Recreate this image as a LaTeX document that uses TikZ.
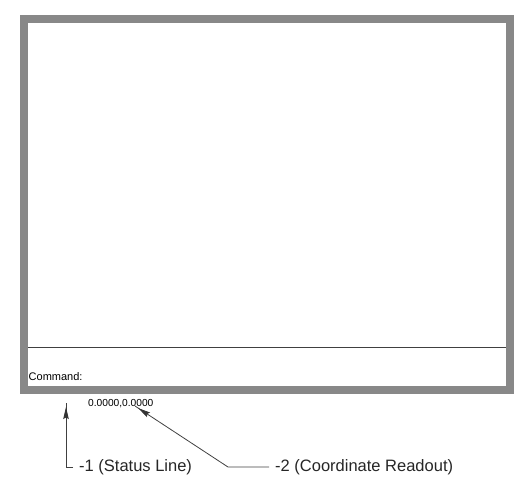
\documentclass[tikz,border=0pt]{standalone}
\usepackage{fontspec}
\setmainfont{Liberation Sans}
\usetikzlibrary{arrows.meta,decorations.markings}
\definecolor{framegray}{HTML}{888888}
\definecolor{linegray}{HTML}{404040}
\tikzset{
  frame/.style={draw=framegray, line width=8pt},
  divider/.style={draw=linegray, line width=1pt},
  conn/.style={draw=linegray, line width=0.8pt, postaction=decorate,
    decoration={markings, mark=at position -4pt with {\arrow[black!80]{Stealth[length=12pt,width=5.5pt,inset=1.5pt]}}}},
  callout/.style={font=\fontsize{16.5}{18}\selectfont, inner xsep=6pt, inner ysep=0pt, anchor=west, text=black!85},
  smalltext/.style={font=\fontsize{11}{12}\selectfont, inner sep=0pt, text=black},
  readout/.style={font=\fontsize{10.2}{11}\selectfont, inner sep=0pt, text=black}
}
\begin{document}
\begin{tikzpicture}[x=1pt,y=-1pt]
\useasboundingbox (0,0) rectangle (532,490);
% drawing window frame
\draw[frame] (24,19) rectangle (510,390);
% command line divider
\draw[divider] (28,347) -- (506,347);
\node[smalltext, anchor=base west] (cmd) at (28.5,380) {Command:};
% coordinate readout
\node[readout, anchor=base west] (coord) at (88,406) {0.0000,0.0000};
% callout labels
\node[callout] (lab1) at (73,467) {-1 (Status Line)};
\node[callout] (lab2) at (269,467) {-2 (Coordinate Readout)};
\coordinate (elbow1) at (66,467);
\coordinate (tip1) at (66,403);
\coordinate (elbow2) at (228,467);
\coordinate (tip2) at (135,406);
\draw[conn] (lab1.west) -- (elbow1) -- (tip1);
\draw[conn] (lab2.west) -- (elbow2) -- (tip2);
\end{tikzpicture}
\end{document}
